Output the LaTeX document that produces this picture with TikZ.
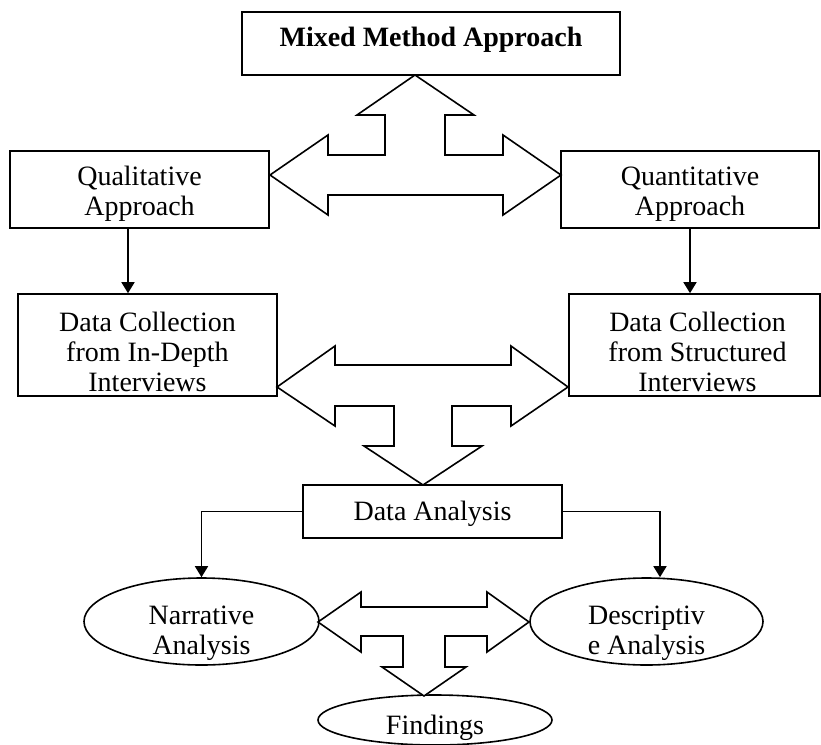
\documentclass[tikz,border=0pt]{standalone}
\usepackage{fontspec}
\setmainfont{Liberation Serif}
\usetikzlibrary{arrows.meta,shapes.geometric}
\begin{document}
\begin{tikzpicture}[x=1pt,y=-1pt,
  every node/.style={font=\fontsize{28}{30}\selectfont},
  box/.style={draw, line width=1.6pt, rectangle, inner sep=0pt},
  oval/.style={draw, line width=1.6pt, ellipse, inner sep=0pt},
  txt/.style={align=center, inner sep=0pt},
  conn/.style={line width=1.6pt, -{Triangle[width=13pt,length=11pt]}},
  blockarrow/.style={draw, line width=1.6pt, line join=miter, fill=white}]
\useasboundingbox (0,0) rectangle (821,744);

% boxes
\node[box, minimum width=378pt, minimum height=63pt,
  label={[txt, font=\fontsize{28}{30}\selectfont\bfseries, yshift=4pt]center:Mixed Method Approach}] (mix) at (431,43.5) {};
\node[box, minimum width=259pt, minimum height=77pt,
  label={[txt, yshift=-4.5pt]center:Qualitative\\Approach}] (qual) at (139.5,189.5) {};
\node[box, minimum width=258pt, minimum height=77pt,
  label={[txt, yshift=-4.5pt]center:Quantitative\\Approach}] (quant) at (690,189.5) {};
\node[box, minimum width=259pt, minimum height=102pt,
  label={[txt, yshift=-6.5pt]center:Data Collection\\from In-Depth\\Interviews}] (dcl) at (147.5,345) {};
\node[box, minimum width=251pt, minimum height=102pt,
  label={[txt, yshift=-6.5pt, xshift=3pt]center:Data Collection\\from Structured\\Interviews}] (dcr) at (694.5,345) {};
\node[box, minimum width=259pt, minimum height=53pt,
  label={[txt, yshift=-2pt]center:Data Analysis}] (da) at (432.5,511.5) {};

% ellipses
\node[oval, minimum width=235pt, minimum height=87pt,
  label={[txt, yshift=-12pt]center:Narrative\\Analysis}] (nar) at (201.5,621.5) {};
\node[oval, minimum width=233pt, minimum height=87pt,
  label={[txt, yshift=-12pt]center:Descriptiv\\e Analysis}] (des) at (646.5,621.5) {};
\node[oval, minimum width=234pt, minimum height=50pt,
  label={[txt, yshift=-8pt]center:Findings}] (fin) at (435,720) {};

% connectors
\draw[conn] ([xshift=-11.5pt]qual.south) -- ([xshift=-11.5pt]qual.south |- dcl.north);
\draw[conn] (quant.south) -- (quant.south |- dcr.north);
\draw[conn] (da.west) -| (nar.north);
\draw[conn] (da.east) -| ([xshift=13.5pt]des.north);

% block arrows
\draw[blockarrow] (415,75) -- (474,115) -- (445,115) -- (445,155) -- (503,155) -- (503,135)
  -- (561,175) -- (503,215) -- (503,195) -- (328,195) -- (328,215) -- (270,175)
  -- (328,135) -- (328,155) -- (385,155) -- (385,115) -- (357,115) -- cycle;

\draw[blockarrow] (277,387) -- (335,346) -- (335,365) -- (511,365) -- (511,346) -- (568,387)
  -- (511,426) -- (511,406) -- (452,406) -- (452,446) -- (482,446) -- (423,485)
  -- (364,446) -- (394,446) -- (394,406) -- (335,406) -- (335,426) -- cycle;

\draw[blockarrow] (318,622) -- (361,592) -- (361,607) -- (487,607) -- (487,592) -- (529,622)
  -- (487,652) -- (487,636) -- (445,636) -- (445,667) -- (466,667) -- (424,696)
  -- (382,667) -- (403,667) -- (403,636) -- (361,636) -- (361,652) -- cycle;
\end{tikzpicture}
\end{document}
